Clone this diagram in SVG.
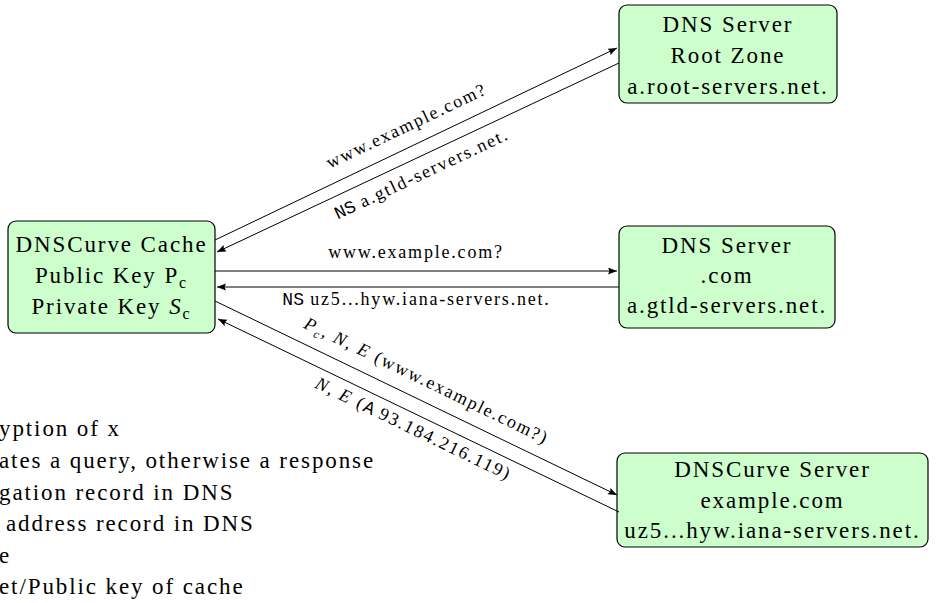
<svg xmlns="http://www.w3.org/2000/svg" width="936" height="603" viewBox="0 0 936 603">
<style>
.node rect{fill:#ccffcc;stroke:#000;stroke-width:1.2}
.nt{font-family:"Liberation Serif","DejaVu Serif",serif;font-size:23px;letter-spacing:1.9px;fill:#000;text-anchor:middle}
.lg{font-family:"Liberation Serif","DejaVu Serif",serif;font-size:23px;letter-spacing:1.9px;fill:#000}
.el{font-family:"Liberation Serif","DejaVu Serif",serif;font-size:18px;letter-spacing:1.8px;fill:#000;text-anchor:middle}
.tt{font-family:"Liberation Mono","DejaVu Sans Mono",monospace;letter-spacing:0}
.it{font-style:italic}
.conn line{stroke:#000;stroke-width:1;marker-end:url(#ah)}
</style>
<defs>
<marker id="ah" markerUnits="userSpaceOnUse" markerWidth="10" markerHeight="8" refX="9" refY="3.5" orient="auto">
<path d="M0,0 L9,3.5 L0,7 L1.5,3.5 z" fill="#000"/>
</marker>
</defs>
<rect width="936" height="603" fill="#fff"/>
<g id="cache" class="node">
<rect x="8" y="221" width="207" height="112" rx="8"/>
<text class="nt" x="111.5" y="252">DNSCurve Cache</text>
<text class="nt" x="111.5" y="283">Public Key P<tspan font-size="16" dy="5">c</tspan></text>
<text class="nt" x="111.5" y="314">Private Key <tspan class="it">S</tspan><tspan font-size="16" dy="5">c</tspan></text>
</g>
<g id="root" class="node">
<rect x="619" y="5" width="218" height="98" rx="8"/>
<text class="nt" x="728" y="32">DNS Server</text>
<text class="nt" x="728" y="63">Root Zone</text>
<text class="nt" x="728" y="94">a.root-servers.net.</text>
</g>
<g id="com" class="node">
<rect x="619" y="226" width="216" height="102" rx="8"/>
<text class="nt" x="727" y="253">DNS Server</text>
<text class="nt" x="727" y="283">.com</text>
<text class="nt" x="727" y="313">a.gtld-servers.net.</text>
</g>
<g id="example" class="node">
<rect x="617" y="453" width="311" height="94" rx="8"/>
<text class="nt" x="772.5" y="477">DNSCurve Server</text>
<text class="nt" x="772.5" y="508">example.com</text>
<text class="nt" x="772.5" y="538">uz5...hyw.iana-servers.net.</text>
</g>
<g id="connectors" class="conn">
<line x1="215" y1="240" x2="617" y2="48"/>
<line x1="619" y1="63" x2="217" y2="252"/>
<line x1="215" y1="271" x2="617" y2="271"/>
<line x1="619" y1="287" x2="217" y2="287"/>
<line x1="215" y1="301" x2="617" y2="495"/>
<line x1="619" y1="512" x2="218" y2="319"/>
</g>
<g id="edge-labels">
<text class="el" transform="translate(409,131) rotate(-25.5)">www.example.com?</text>
<text class="el" transform="translate(424,179) rotate(-25.2)"><tspan class="tt">NS</tspan> a.gtld-servers.net.</text>
<text class="el" x="416" y="258">www.example.com?</text>
<text class="el" x="416.5" y="305"><tspan class="tt">NS</tspan> uz5...hyw.iana-servers.net.</text>
<text class="el" transform="translate(424,386) rotate(25.8)"><tspan class="it">P</tspan><tspan font-size="12" dy="4" class="it">c</tspan><tspan dy="-4">, </tspan><tspan class="it">N</tspan>, <tspan class="it">E</tspan> (www.example.com?)</text>
<text class="el" transform="translate(411,434) rotate(25.7)"><tspan class="it">N</tspan>, <tspan class="it">E</tspan> (<tspan class="tt">A</tspan> 93.184.216.119)</text>
</g>
<g id="legend">
<text class="lg" x="-1" y="436">yption of x</text>
<text class="lg" x="-1" y="468">ates a query, otherwise a response</text>
<text class="lg" x="-1" y="500">gation record in DNS</text>
<text class="lg" x="6" y="531">address record in DNS</text>
<text class="lg" x="-1" y="563">e</text>
<text class="lg" x="-1" y="594">et/Public key of cache</text>
</g>
</svg>
